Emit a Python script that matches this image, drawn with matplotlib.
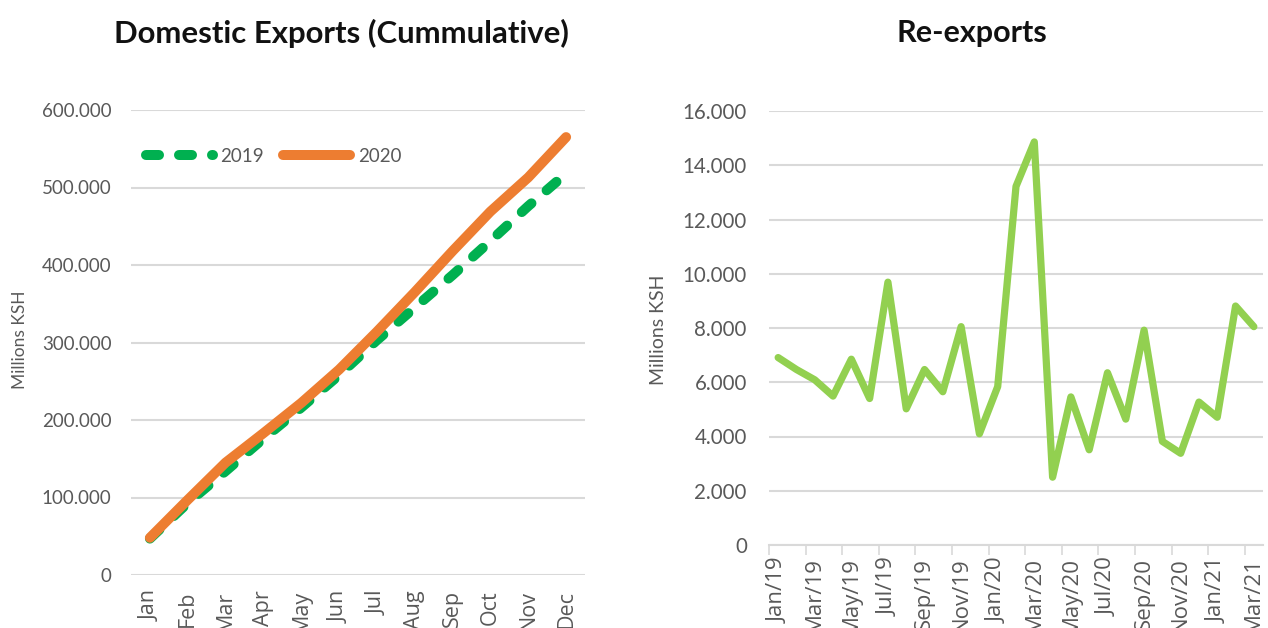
import matplotlib
matplotlib.use("Agg")
import matplotlib.pyplot as plt
from matplotlib.ticker import FuncFormatter

months = ["Jan", "Feb", "Mar", "Apr", "May", "Jun", "Jul", "Aug", "Sep", "Oct", "Nov", "Dec"]
dom_2019 = [47000, 93000, 134000, 176000, 216000, 258000, 303000, 345000, 387000, 431000, 476000, 518000]
dom_2020 = [48000, 97000, 145000, 183000, 222000, 265000, 314000, 365000, 418000, 469000, 513000, 565000]

re_labels = ["Jan/19", "Feb/19", "Mar/19", "Apr/19", "May/19", "Jun/19", "Jul/19", "Aug/19", "Sep/19",
             "Oct/19", "Nov/19", "Dec/19", "Jan/20", "Feb/20", "Mar/20", "Apr/20", "May/20", "Jun/20",
             "Jul/20", "Aug/20", "Sep/20", "Oct/20", "Nov/20", "Dec/20", "Jan/21", "Feb/21", "Mar/21"]
re_exports = [6910, 6470, 6090, 5490, 6850, 5400, 9690, 5020, 6470, 5650, 8050, 4100, 5840,
              13220, 14860, 2500, 5460, 3510, 6350, 4640, 7920, 3820, 3380, 5270, 4710, 8810, 8050]

FONT = "Lato"
XFONT = "Open Sans"
GRAY = "#595959"
GRID = "#d9d9d9"

def dotfmt(v, pos):
    if v == 0:
        return "0"
    return f"{int(round(v)):,}".replace(",", ".")

fig = plt.figure(figsize=(12.68, 6.28), dpi=100)

# Left chart
ax1 = fig.add_axes([131/1268, 1-575/628, 454/1268, 465/628])
x1 = list(range(len(months)))
ax1.plot(x1, dom_2019, color="#00b050", lw=7.2, linestyle=(0, (1.3, 2.0)),
         dash_capstyle="round", solid_capstyle="round", dash_joinstyle="round", label="2019", zorder=3)
ax1.plot(x1, dom_2020, color="#ed7d31", lw=7.2, solid_capstyle="round", solid_joinstyle="round",
         label="2020", zorder=4)
ax1.set_xlim(-0.5, len(months) - 0.5)
ax1.set_ylim(0, 600000)
ax1.set_yticks(range(0, 600001, 100000))
ax1.yaxis.set_major_formatter(FuncFormatter(dotfmt))
ax1.set_xticks(x1)
ax1.set_xticklabels(months, rotation=90, va="top", ha="center")
ax1.tick_params(axis="both", length=0, labelcolor=GRAY)
ax1.tick_params(axis="y", pad=14, labelsize=13.5)
ax1.tick_params(axis="x", pad=11, labelsize=15.5)
for lab in ax1.get_yticklabels():
    lab.set_fontfamily(FONT)
for lab in ax1.get_xticklabels():
    lab.set_fontfamily(XFONT)
ax1.grid(axis="y", color=GRID, lw=1.5)
ax1.set_axisbelow(True)
for s in ax1.spines.values():
    s.set_visible(False)
leg = ax1.legend(loc="upper left", bbox_to_anchor=(-0.005, 0.955), ncol=2, frameon=False,
                 handlelength=3.6, columnspacing=1.0, handletextpad=0.4,
                 prop={"family": FONT, "size": 13.5})
for t in leg.get_texts():
    t.set_color(GRAY)

# Right chart
ax2 = fig.add_axes([769/1268, 1-545/628, 494/1268, 434/628])
x2 = list(range(len(re_labels)))
ax2.plot(x2, re_exports, color="#92d050", lw=5.2, solid_joinstyle="round", solid_capstyle="round")
ax2.set_xlim(-0.5, len(re_labels) - 0.5)
ax2.set_ylim(0, 16000)
ax2.set_yticks(range(0, 16001, 2000))
ax2.yaxis.set_major_formatter(FuncFormatter(dotfmt))
ax2.set_xticks(x2[::2])
ax2.set_xticklabels(re_labels[::2], rotation=90, va="top", ha="center")
ax2.set_xticks([i - 0.5 for i in range(0, len(re_labels) + 1, 2)], minor=True)
ax2.tick_params(axis="both", which="major", length=0, labelcolor=GRAY)
ax2.tick_params(axis="y", pad=16, labelsize=14.8)
ax2.tick_params(axis="x", which="minor", length=7, width=1.2, color=GRID)
ax2.tick_params(axis="x", which="major", pad=9, labelsize=16)
for lab in ax2.get_yticklabels():
    lab.set_fontfamily(FONT)
for lab in ax2.get_xticklabels():
    lab.set_fontfamily(XFONT)
ax2.grid(axis="y", color=GRID, lw=1.5)
ax2.set_axisbelow(True)
for k, s in ax2.spines.items():
    s.set_visible(k == "bottom")
ax2.spines["bottom"].set_color(GRID)
ax2.spines["bottom"].set_linewidth(1.5)

# Titles and axis labels
fig.text(341/1268, 1-33/628, "Domestic Exports (Cummulative)", ha="center", va="center",
         fontsize=22.4, fontweight="bold", family=FONT, color="#111111")
fig.text(972/1268, 1-33/628, "Re-exports", ha="center", va="center",
         fontsize=22, fontweight="bold", family=FONT, color="#111111")
fig.text(20/1268, 1-340/628, "Millions KSH", rotation=90, ha="center", va="center",
         fontsize=12.5, family=FONT, color=GRAY)
fig.text(658/1268, 1-330/628, "Millions KSH", rotation=90, ha="center", va="center",
         fontsize=14, family=FONT, color=GRAY)

fig.savefig("out.png", dpi=100)
